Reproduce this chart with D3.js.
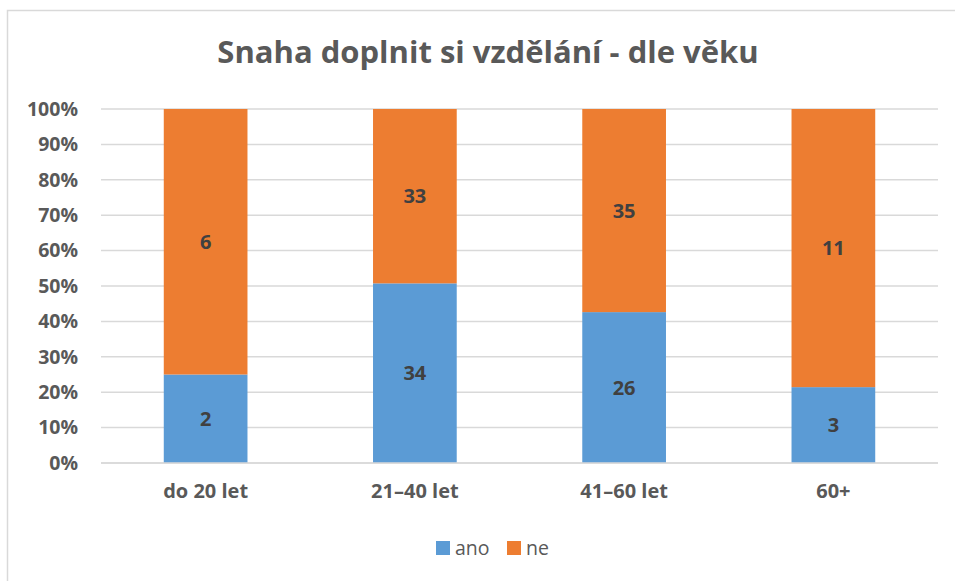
<!DOCTYPE html>
<html>
<head>
<meta charset="utf-8">
<script src="https://cdn.jsdelivr.net/npm/d3@7"></script>
<style>
  body { margin: 0; background: #fff; }
  svg { display: block; font-family: "Open Sans", sans-serif; }
</style>
</head>
<body>
<svg id="chart" width="955" height="581"></svg>
<script>
// data
const categories = ["do 20 let", "21–40 let", "41–60 let", "60+"];
const ano = [2, 34, 26, 3];
const ne = [6, 33, 35, 11];
const seriesNames = ["ano", "ne"];
const seriesColors = ["#5B9BD5", "#ED7D31"];
const yTicks = [0, 0.1, 0.2, 0.3, 0.4, 0.5, 0.6, 0.7, 0.8, 0.9, 1];

const svg = d3.select("#chart");
const margin = { top: 109, right: 17, bottom: 118, left: 101 };
const width = 955 - margin.left - margin.right;
const height = 581 - margin.top - margin.bottom;

// chart border
svg.append("rect")
  .attr("x", 7.5).attr("y", 10.5)
  .attr("width", 960).attr("height", 600)
  .attr("fill", "none")
  .attr("stroke", "#d9d9d9")
  .attr("stroke-width", 1.5);

svg.append("text")
  .attr("x", 488).attr("y", 63)
  .attr("text-anchor", "middle")
  .attr("font-size", 31)
  .attr("font-weight", 700)
  .attr("fill", "#595959")
  .text("Snaha doplnit si vzdělání - dle věku");

const g = svg.append("g").attr("transform", `translate(${margin.left},${margin.top})`);

const rows = categories.map((c, i) => ({ cat: c, ano: ano[i], ne: ne[i] }));

const x = d3.scaleBand().domain(categories).range([0, width]).paddingInner(0.6).paddingOuter(0.3);
const y = d3.scaleLinear().domain([0, 1]).range([height, 0]);

// gridlines
g.append("g")
  .selectAll("line")
  .data(yTicks)
  .join("line")
  .attr("x1", 0).attr("x2", width)
  .attr("y1", d => y(d)).attr("y2", d => y(d))
  .attr("stroke", "#d9d9d9")
  .attr("stroke-width", 1.5);

// y axis labels
const yAxis = g.append("g")
  .call(d3.axisLeft(y).tickValues(yTicks).tickFormat(d3.format(".0%")).tickSize(0).tickPadding(23));
yAxis.select(".domain").remove();
yAxis.selectAll("text")
  .attr("font-size", 19.5)
  .attr("font-weight", 700)
  .attr("fill", "#595959")
  .attr("font-family", "Open Sans, sans-serif");

const stack = d3.stack().keys(seriesNames).offset(d3.stackOffsetExpand);
const layers = stack(rows);

layers.forEach((layer, li) => {
  const lg = g.append("g");
  lg.selectAll("rect")
    .data(layer)
    .join("rect")
    .attr("x", d => x(d.data.cat))
    .attr("width", x.bandwidth())
    .attr("y", d => y(d[1]))
    .attr("height", d => y(d[0]) - y(d[1]))
    .attr("fill", seriesColors[li]);
  lg.selectAll("text")
    .data(layer)
    .join("text")
    .attr("x", d => x(d.data.cat) + x.bandwidth() / 2)
    .attr("y", d => y((d[0] + d[1]) / 2))
    .attr("dy", "0.35em")
    .attr("text-anchor", "middle")
    .attr("font-size", 20)
    .attr("font-weight", 700)
    .attr("fill", "#404040")
    .text(d => d.data[layer.key]);
});

// bottom axis line
g.append("line")
  .attr("x1", 0).attr("x2", width)
  .attr("y1", height).attr("y2", height)
  .attr("stroke", "#d9d9d9")
  .attr("stroke-width", 1.5);

const xAxis = g.append("g")
  .attr("transform", `translate(0,${height})`)
  .call(d3.axisBottom(x).tickSize(0).tickPadding(21));
xAxis.select(".domain").remove();
xAxis.selectAll("text")
  .attr("font-size", 20)
  .attr("font-weight", 700)
  .attr("fill", "#595959")
  .attr("font-family", "Open Sans, sans-serif");

// legend
const legend = svg.append("g").attr("transform", "translate(436,541)");
const legendX = [0, 71];
seriesNames.forEach((name, i) => {
  const item = legend.append("g").attr("transform", `translate(${legendX[i]},0)`);
  item.append("rect").attr("width", 14).attr("height", 14).attr("fill", seriesColors[i]);
  item.append("text")
    .attr("x", 19).attr("y", 7).attr("dy", "0.35em")
    .attr("font-size", 19.5)
    .attr("fill", "#595959")
    .text(name);
});
</script>
</body>
</html>
